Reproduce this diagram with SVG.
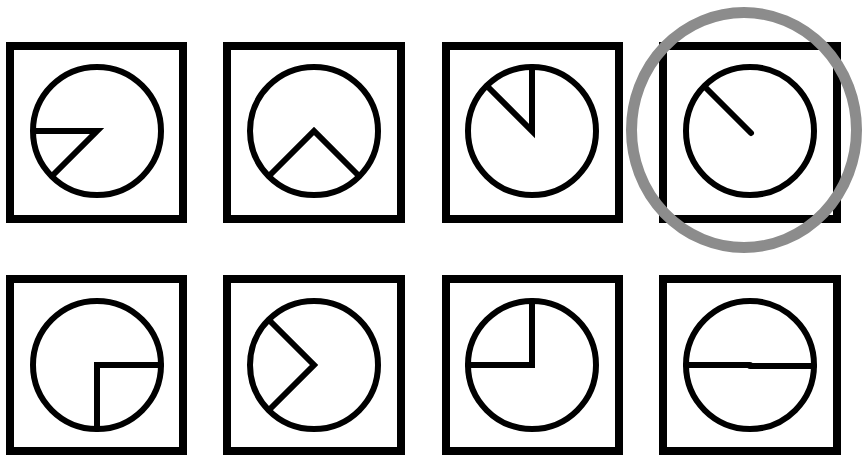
<svg xmlns="http://www.w3.org/2000/svg" width="864" height="458" viewBox="0 0 864 458">
<style>
.box{fill:none;stroke:#000;stroke-width:8}
.dial{fill:none;stroke:#000;stroke-width:6}
.hand{fill:none;stroke:#000;stroke-width:6;stroke-linecap:round;stroke-linejoin:miter}
.mark{fill:none;stroke:#8c8c8c;stroke-width:11}
</style>
<rect width="864" height="458" fill="#fff"/>
<g id="n1">
<rect class="box" x="10" y="46" width="173" height="173"/>
<circle class="dial" cx="97" cy="131" r="64"/>
<polyline class="hand" points="34,131 97,131 52,176"/>
</g>
<g id="n2">
<rect class="box" x="227" y="46" width="174" height="173"/>
<circle class="dial" cx="314" cy="131" r="64"/>
<polyline class="hand" points="269,176 314,131 359,176"/>
</g>
<g id="n3">
<rect class="box" x="446" y="46" width="173" height="173"/>
<circle class="dial" cx="532" cy="131" r="64"/>
<polyline class="hand" points="532,67 532,131 487,86"/>
</g>
<g id="n4">
<rect class="box" x="663" y="46" width="174" height="173"/>
<circle class="dial" cx="750" cy="131" r="64"/>
<line class="hand" x1="751" y1="133" x2="705" y2="87"/>
</g>
<g id="n5">
<rect class="box" x="10" y="279" width="173" height="172"/>
<circle class="dial" cx="97" cy="365" r="64"/>
<polyline class="hand" points="161,365 97,365 97,429"/>
</g>
<g id="n6">
<rect class="box" x="227" y="279" width="174" height="172"/>
<circle class="dial" cx="314" cy="365" r="64"/>
<polyline class="hand" points="269,320 314,365 269,410"/>
</g>
<g id="n7">
<rect class="box" x="446" y="279" width="173" height="172"/>
<circle class="dial" cx="532" cy="365" r="64"/>
<polyline class="hand" points="532,301 532,365 468,365"/>
</g>
<g id="n8">
<rect class="box" x="663" y="279" width="174" height="172"/>
<circle class="dial" cx="750" cy="365" r="64"/>
<line class="hand" x1="686" y1="365" x2="750" y2="365"/>
<line class="hand" x1="750" y1="366" x2="814" y2="366"/>
</g>
<g id="connectors"></g>
<g id="highlight">
<ellipse class="mark" cx="744" cy="130" rx="112.5" ry="117.5"/>
</g>
</svg>
